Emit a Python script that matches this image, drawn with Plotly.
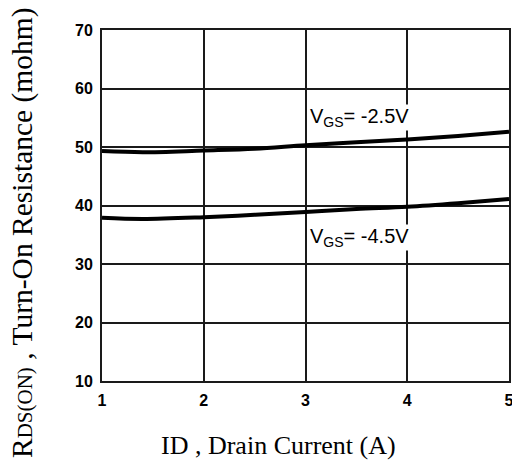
import plotly.graph_objects as go

drain_current = [1, 1.4, 2, 2.5, 3, 3.5, 4, 4.5, 5]
rds_vgs_2_5 = [49.3, 49.1, 49.4, 49.7, 50.3, 50.8, 51.3, 51.9, 52.6]
rds_vgs_4_5 = [37.9, 37.7, 38.0, 38.4, 38.9, 39.4, 39.8, 40.4, 41.1]
x_ticks = [1, 2, 3, 4, 5]
y_ticks = [10, 20, 30, 40, 50, 60, 70]

fig = go.Figure()
for ys in (rds_vgs_2_5, rds_vgs_4_5):
    fig.add_trace(go.Scatter(x=drain_current, y=ys, mode="lines",
                             line=dict(color="black", width=4, shape="spline"),
                             showlegend=False, hoverinfo="skip"))

lab_font = dict(family="Liberation Sans, Arial", size=20, color="black")
fig.add_annotation(x=3.03, y=55.1, xref="x", yref="y", xanchor="left", yanchor="middle",
                   text="V<sub>GS</sub>= -2.5V", showarrow=False, font=lab_font,
                   bgcolor="white", borderpad=0)
fig.add_annotation(x=3.03, y=34.6, xref="x", yref="y", xanchor="left", yanchor="middle",
                   text="V<sub>GS</sub>= -4.5V", showarrow=False, font=lab_font,
                   bgcolor="white", borderpad=0)

tick_font = dict(family="Liberation Sans, Arial", size=16, color="black", weight="bold")
xtitle_font = dict(family="Liberation Serif, Times New Roman", size=26, color="black")
ytitle_font = dict(family="Liberation Serif, Times New Roman", size=29.5, color="black")

# axis titles as annotations (positioned like the reference)
fig.add_annotation(xref="paper", yref="paper", x=0, y=0, xanchor="center", yanchor="middle",
                   xshift=176, yshift=-64, showarrow=False,
                   text="ID , Drain Current (A)", font=xtitle_font)
fig.add_annotation(xref="paper", yref="paper", x=0, y=0, xanchor="center", yanchor="middle",
                   xshift=-80, yshift=148, showarrow=False, textangle=-90,
                   text="R<span style='font-size:21px'>DS(ON)</span> , Turn-On Resistance (mohm)",
                   font=ytitle_font)

fig.update_xaxes(range=[1, 5], tickvals=x_ticks, ticktext=[str(v) for v in x_ticks],
                 showgrid=True, gridcolor="#1a1a1a", gridwidth=1.5,
                 showline=True, linecolor="#1a1a1a", linewidth=2, mirror=True,
                 zeroline=False, ticks="outside", ticklen=4, tickcolor="rgba(0,0,0,0)",
                 tickfont=tick_font, automargin=False, ticklabeloverflow="allow")
fig.update_yaxes(range=[10, 70], tickvals=y_ticks, ticktext=[str(v) for v in y_ticks],
                 showgrid=True, gridcolor="#1a1a1a", gridwidth=1.5,
                 showline=True, linecolor="#1a1a1a", linewidth=2, mirror=True,
                 zeroline=False, ticks="outside", ticklen=4, tickcolor="rgba(0,0,0,0)",
                 tickfont=tick_font, automargin=False)

fig.update_layout(width=512, height=469, margin=dict(l=102, r=3, t=30, b=88, autoexpand=False),
                  plot_bgcolor="white", paper_bgcolor="white")

fig.write_html("out.html", config={"displayModeBar": False},
               post_script="document.body.style.margin='0';document.body.style.overflow='hidden';")
